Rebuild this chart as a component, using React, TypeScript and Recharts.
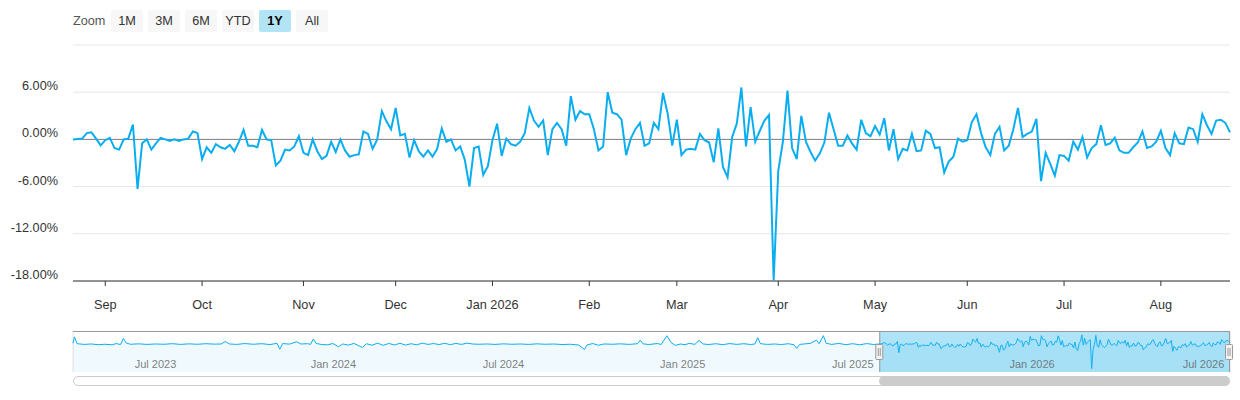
import React from 'react';
import {
  LineChart, Line, AreaChart, Area, XAxis, YAxis, CartesianGrid, ReferenceLine, ReferenceArea,
} from 'recharts';

// Daily returns (%) shown in the main 1Y window
const dailyReturns: number[] = [
  0, 0.05, 0.1, 0.8, 0.9, 0.1, -0.75, -0.1, 0.2, -1.1, -1.3, 0, 0.1, 1.9, -6.3, -0.5, 0, -1.3, -0.5, 0.2,
  0, -0.2, 0, -0.2, 0, 0.1, 1.0, 0.8, -2.5, -1.0, -1.7, -0.6, -1.0, -1.2, -0.7, -1.5, -0.3, 1.2, -0.8, -0.8, -1.0,
  1.2, 0, -0.1, -3.3, -2.7, -1.3, -1.4, -0.9, 0.4, -1.7, -2.0, 0, -1.5, -2.5, -2.1, -0.3, -1.6, 0, -1.4, -2.2,
  -2.0, -1.9, 1.0, 0.7, -1.2, 0, 3.6, 2.3, 1.3, 4.0, 0.5, 0.7, -2.3, -0.1, -1.5, -2.2, -1.4, -2.2, -1.2, 1.4,
  -0.3, 0, -1.4, -0.9, -2.6, -6.0, -1.1, -0.9, -4.5, -3.4, -0.1, 2.0, -2.1, 0.1, -0.6, -0.8, -0.3, 0.8, 4.0, 2.4,
  1.6, 2.4, -2.0, 1.3, 2.1, 1.3, -0.8, 5.5, 2.5, 3.6, 3.2, 3.2, 1.3, -1.4, -0.9, 6.0, 3.4, 3.2, 2.5, -2.0,
  0.1, 1.3, 2.1, -0.8, -0.5, 2.1, 1.3, 5.9, 3.3, -0.8, 2.5, -2.0, -1.3, -1.2, -1.3, 0.7, -0.1, -0.4, -2.9, 1.4,
  -3.5, -4.8, 0.3, 2.0, 6.6, -0.9, 4.1, -0.3, 1.1, 2.4, 3.1, -17.9, -4.0, -0.3, 6.2, -1.1, -2.5, 3.0, -0.3, -1.6,
  -2.7, -1.8,
  -0.4, 3.4, 1.3, -0.8, -0.8, 0.5, -0.5, -1.3, 2.5, 0.8, 0.4, 1.7, 0.6, 2.7, -1.4, 1.3, -2.5, -1.2, -1.4, 0.7,
  -1.5, -1.4, 1.1, 0.7, -1.1, -1.0, -4.2, -2.8, -2.2, 0.1, -0.3, -0.1, 2.2, 3.2, 0.8, -1.0, -2.0, 0.7, 1.6, -1.4,
  -0.8, 1.3, 4.0,
  0.3, 0.7, 1.0, 2.6, -5.3, -1.7, -3.1, -4.6, -2.0, -2.1, -2.7, -0.3, -1.3, 0.3, -2.3, -1.1, -0.6, 1.8, -0.7, -0.5,
  0.2, -1.4, -1.7, -1.7, -1.0, -0.4, 1.0, -1.1, -0.9, -0.3, 1.1, -1.1, -2.0, 0.8, -0.5, -0.6, 1.5, 1.3, -0.3, 3.2,
  1.8, 0.7, 2.4, 2.5, 2.1, 0.9,
];

// Month starts (trading-day index within the 1Y window) and their labels
const monthTickIdx: number[] = [7, 28, 50, 70, 91, 112, 131, 153, 174, 194, 215, 236];
const monthTickLabels: string[] = ['Sep', 'Oct', 'Nov', 'Dec', 'Jan 2026', 'Feb', 'Mar', 'Apr', 'May', 'Jun', 'Jul', 'Aug'];

// Y axis ticks (%)
const yTicks: number[] = [-18, -12, -6, 0, 6, 12];

// Earlier history shown only in the navigator (trading-day index, return %)
const navEarlyDays: number[] = [
  0, 1, 3, 8, 13, 18, 23, 28, 31, 34, 36, 38, 41, 47, 53, 59, 65, 71, 77, 83, 89, 95, 101, 106, 109, 112, 117,
  123, 129, 135, 141, 146, 148, 150, 155, 160, 163, 168, 170, 172, 174, 178, 182, 186, 190, 193, 197, 201, 204,
  207, 210, 214, 218, 222, 226, 230, 234, 238, 242, 246, 250, 254, 258, 262, 266, 270, 274, 278, 282, 286, 290,
  296, 302, 308, 314, 320, 326, 332, 338, 344, 350, 356, 362, 366, 368, 372, 376, 380, 386, 392, 398, 404, 406,
  408, 412, 418, 421, 425, 428, 431, 435, 438, 441, 445, 448, 451, 455, 460, 465, 470, 475, 480, 485, 488, 490,
  492, 497, 502, 507, 512, 516, 518, 520, 524, 528, 532, 534, 537, 539, 543, 548, 553, 558, 563, 568, 573,
];
const navEarlyValues: number[] = [
  0.5, 5.2, 0.2, -0.3, 0.0, -0.5, -0.2, -0.6, 0.3, -0.4, 4.0, 0.8, -0.2, 0.1, -0.3, 0.0, -0.2, 0.2, -0.3, 0.1,
  -0.2, 0.2, -0.1, 0.0, 1.8, 0.0, -0.3, 0.3, -0.2, 0.2, -0.4, 0.5, -3.8, 0.3, -0.1, 1.6, 0.0, 0.2, -0.3, 3.6,
  0.4, -0.4, -0.6, 0.3, -2.0, 0.0, -0.8, 0.4, -1.0, -2.5, 0.2, -0.9, 0.6, -1.0, 0.4, -0.7, 0.5, -0.8, 0.2, -0.6,
  0.6, -0.3, 0.3, -0.4, 0.5, -0.5, 0.4, -0.3, 0.6, 0.0, -0.2, 0.0, -0.3, 0.1, -0.2, 0.0, -0.3, 0.1, -0.2, 0.0,
  -0.4, -0.2, -0.8, -4.0, -0.6, 0.3, -0.9, 0.0, -0.2, 0.1, -0.3, 0.2, 2.8, 0.1, -0.4, 0.3, -0.3, 6.0, 1.0, -1.0,
  0.0, -0.6, 0.5, -0.3, 2.6, 0.0, -0.4, 0.2, -0.5, 0.3, -0.3, 0.2, -0.4, 0.0, 4.5, 0.2, -0.3, 0.0, -0.4, 0.2,
  -0.6, -3.2, -0.3, 0.1, 0.5, 2.8, 0.2, 6.0, 0.5, -0.3, 0.4, -0.5, 0.2, -0.6, 0.3, -0.4,
];

// Navigator axis ticks (trading-day index over full history) and labels
const navTickIdx: number[] = [42, 168, 291, 418, 541, 668, 792];
const navTickLabels: string[] = ['Jul 2023', 'Jan 2024', 'Jul 2024', 'Jan 2025', 'Jul 2025', 'Jan 2026', 'Jul 2026'];
const windowStartDay = 577;

const zoomButtons: string[] = ['1M', '3M', '6M', 'YTD', '1Y', 'All'];
const selectedButton = '1Y';

const LINE = '#0aaef0';
const FONT = '"Liberation Sans", Arial, Helvetica, sans-serif';

const mainData = dailyReturns.map((v, i) => ({ i, v }));
const navData = [
  ...navEarlyDays.map((d, k) => ({ d, v: navEarlyValues[k] })),
  ...dailyReturns.map((v, i) => ({ d: windowStartDay + i, v })),
];
const navMax = navData[navData.length - 1].d;
const NAV_LEFT = 73;
const NAV_RIGHT = 1230;
const navX = (d: number) => NAV_LEFT + (d / navMax) * (NAV_RIGHT - NAV_LEFT);

const YTick = (props: any) => {
  const { y, payload } = props;
  if (payload.value === 12) return <g />;
  return (
    <text x={58} y={y - 2} textAnchor="end" fontSize={12.7} fill="#333" fontFamily={FONT}>
      {payload.value.toFixed(2) + '%'}
    </text>
  );
};

const XTick = (props: any) => {
  const { x, payload } = props;
  const k = monthTickIdx.indexOf(payload.value);
  return (
    <text x={x} y={309} textAnchor="middle" fontSize={12.7} fill="#333" fontFamily={FONT}>
      {monthTickLabels[k]}
    </text>
  );
};

export default function App() {
  const selL = navX(windowStartDay);
  const selR = navX(navMax);
  return (
    <div style={{ position: 'absolute', left: 0, top: 0, width: 1240, height: 400, fontFamily: FONT, background: '#fff' }}>
      {/* Range selector */}
      <div style={{ position: 'absolute', left: 73, top: 10, height: 22, lineHeight: '22px', fontSize: 12.7, color: '#555' }}>Zoom</div>
      {zoomButtons.map((b, k) => (
        <div
          key={b}
          style={{
            position: 'absolute', left: 111 + k * 37, top: 10, width: 32, height: 22, lineHeight: '22px',
            textAlign: 'center', fontSize: 12.7, borderRadius: 2,
            background: b === selectedButton ? '#b2e4f6' : '#f7f7f7',
            color: b === selectedButton ? '#000' : '#333',
            fontWeight: b === selectedButton ? 700 : 400,
          }}
        >
          {b}
        </div>
      ))}

      {/* Main chart */}
      <div style={{ position: 'absolute', left: 0, top: 0 }}>
        <LineChart width={1240} height={320} data={mainData} margin={{ top: 45, right: 10, bottom: 0, left: 0 }}>
          <CartesianGrid horizontal vertical={false} stroke="#e6e6e6" />
          <YAxis
            type="number" domain={[-18, 12]} ticks={yTicks} width={73} axisLine={false} tickLine={false}
            tick={<YTick />} interval={0}
          />
          <XAxis
            type="number" dataKey="i" domain={[0, dailyReturns.length - 1]} ticks={monthTickIdx} interval={0}
            height={39} axisLine={{ stroke: '#333' }} tickLine={{ stroke: '#333' }} tickSize={5} tick={<XTick />}
          />
          <ReferenceLine y={0} stroke="#808080" strokeWidth={1} />
          <Line type="linear" dataKey="v" stroke={LINE} strokeWidth={2} dot={false} isAnimationActive={false} />
        </LineChart>
      </div>

      {/* Navigator */}
      <div style={{ position: 'absolute', left: 0, top: 331 }}>
        <AreaChart width={1240} height={41} data={navData} margin={{ top: 0, right: 10, bottom: 0, left: 73 }}>
          <XAxis
            type="number" dataKey="d" domain={[0, navMax]} ticks={navTickIdx} interval={0} height={0}
            axisLine={false} tickLine={false} tick={false}
          />
          <YAxis type="number" domain={[-20.3, 9.4]} hide width={0} />
          <CartesianGrid horizontal={false} vertical stroke="#e3e3e3" />
          <Area
            type="linear" dataKey="v" stroke={LINE} strokeWidth={1} fill="#00aeef" fillOpacity={0.06}
            baseValue={-20.3} isAnimationActive={false} dot={false}
          />
          <ReferenceArea x1={windowStartDay} x2={navMax} y1={-20.3} y2={9.4} fill="#29b6ec" fillOpacity={0.38} stroke="none" />
        </AreaChart>
      </div>

      {/* Navigator labels, outline and handles */}
      <svg width={1240} height={400} style={{ position: 'absolute', left: 0, top: 0, pointerEvents: 'none' }}>
        {navTickIdx.map((d, k) => (
          <text key={d} x={navX(d) + 3} y={368} fontSize={11} fill="#666" fontFamily={FONT} fillOpacity={0.85}>
            {navTickLabels[k]}
          </text>
        ))}
        <path d={`M${NAV_LEFT} 331.5 H${NAV_RIGHT}`} stroke="#999" strokeWidth={1} fill="none" />
        <path d={`M${selL + 0.5} 331 V372 M${selR - 0.5} 331 V372`} stroke="#999" strokeWidth={1} fill="none" />
        {[selL, selR - 1].map((hx, k) => (
          <g key={k}>
            <rect x={hx - 3.5} y={344.5} width={7} height={15} rx={1} fill="#f2f2f2" stroke="#999" strokeWidth={1} />
            <path d={`M${hx - 1} 348 V356 M${hx + 1} 348 V356`} stroke="#999" strokeWidth={1} />
          </g>
        ))}
      </svg>

      {/* Scrollbar */}
      <div style={{ position: 'absolute', left: 73, top: 376, width: 1157, height: 10, boxSizing: 'border-box', border: '1px solid #ccc', borderRadius: 5, background: '#fff' }} />
      <div style={{ position: 'absolute', left: selL, top: 376, width: selR - selL, height: 10, borderRadius: 5, background: '#cccccc' }} />
    </div>
  );
}
